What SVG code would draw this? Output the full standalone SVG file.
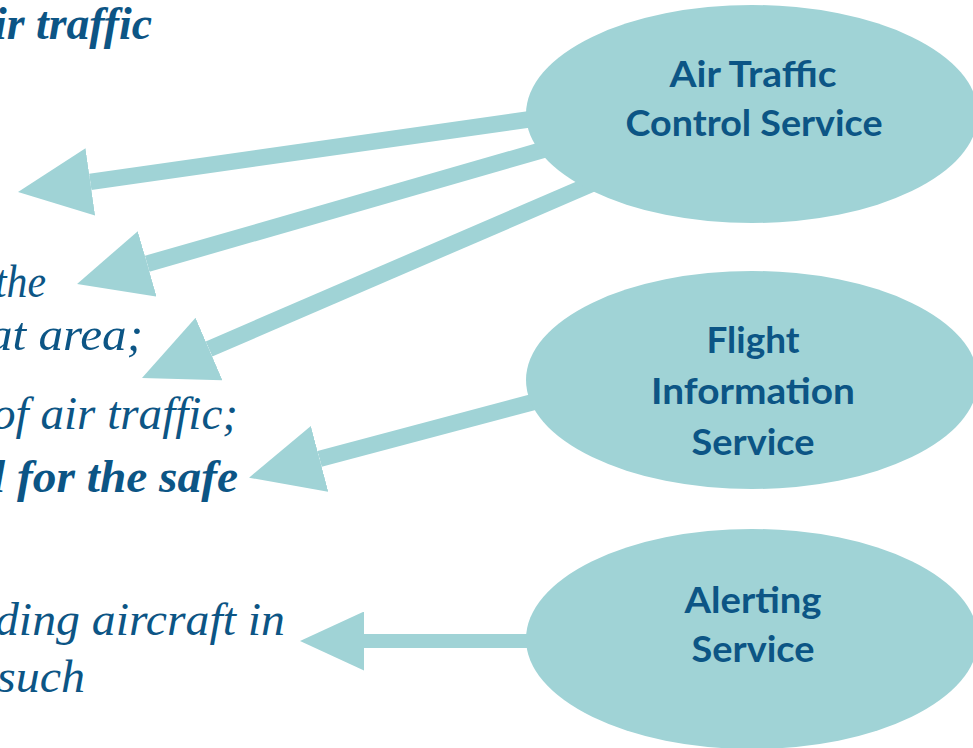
<svg xmlns="http://www.w3.org/2000/svg" width="973" height="748" viewBox="0 0 973 748">
  <style>
    .note { font-family: "Liberation Serif", "Times New Roman", serif; font-style: italic; font-size: 47px; fill: #0c5585; }
    .note.strong { font-weight: bold; }
    .svc { fill: #a0d3d6; }
    .svc-label { font-family: Lato, "Open Sans", "Liberation Sans", sans-serif; font-weight: bold; font-size: 37px; fill: #0c5585; text-anchor: middle; }
    .link { stroke: #a0d3d6; stroke-width: 16.5; fill: none; stroke-linecap: butt; }
    .link.thin { stroke-width: 14; }
  </style>
  <defs>
    <marker id="head" markerUnits="userSpaceOnUse" viewBox="0 0 73 68" markerWidth="73" markerHeight="68" refX="0" refY="34" orient="auto">
      <path d="M0,0 L73,34 L0,68 Z" fill="#a0d3d6"/>
    </marker>
    <marker id="head-small" markerUnits="userSpaceOnUse" viewBox="0 0 64 59" markerWidth="64" markerHeight="59" refX="0" refY="29.5" orient="auto">
      <path d="M0,0 L64,29.5 L0,59 Z" fill="#a0d3d6"/>
    </marker>
  </defs>

  <!-- bullet text running in from the left margin -->
  <g id="notes">
    <text class="note strong" x="-6" y="39" textLength="158" lengthAdjust="spacingAndGlyphs">ir traffic</text>
    <text class="note" x="-5" y="297" textLength="51" lengthAdjust="spacingAndGlyphs">the</text>
    <text class="note" x="-12" y="350" textLength="155" lengthAdjust="spacingAndGlyphs">at area;</text>
    <text class="note" x="-8" y="429" textLength="246" lengthAdjust="spacingAndGlyphs">of air traffic;</text>
    <text class="note strong" x="-8" y="492" textLength="246" lengthAdjust="spacingAndGlyphs">l for the safe</text>
    <text class="note" x="-5" y="635" textLength="290" lengthAdjust="spacingAndGlyphs">ding aircraft in</text>
    <text class="note" x="-3" y="692" textLength="88" lengthAdjust="spacingAndGlyphs">such</text>
  </g>

  <!-- thick arrows from each service to the objectives it serves -->
  <g id="connectors">
    <line class="link" x1="560" y1="115" x2="90.3" y2="181.8" marker-end="url(#head)"/>
    <line class="link" x1="560" y1="145" x2="147.2" y2="263.8" marker-end="url(#head)"/>
    <line class="link" x1="610" y1="176" x2="209" y2="349" marker-end="url(#head)"/>
    <line class="link" x1="560" y1="395" x2="319.6" y2="458.9" marker-end="url(#head)"/>
    <line class="link thin" x1="560" y1="641" x2="364" y2="641" marker-end="url(#head-small)"/>
  </g>

  <g id="atc">
    <ellipse class="svc" cx="752" cy="114" rx="226" ry="109"/>
    <text class="svc-label" x="753" y="87" textLength="167" lengthAdjust="spacingAndGlyphs">Air Traffic</text>
    <text class="svc-label" x="754" y="136" textLength="257" lengthAdjust="spacingAndGlyphs">Control Service</text>
  </g>

  <g id="fis">
    <ellipse class="svc" cx="752" cy="380" rx="226" ry="109"/>
    <text class="svc-label" x="753" y="353" textLength="93" lengthAdjust="spacingAndGlyphs">Flight</text>
    <text class="svc-label" x="753" y="404" textLength="204" lengthAdjust="spacingAndGlyphs">Information</text>
    <text class="svc-label" x="753" y="455" textLength="123" lengthAdjust="spacingAndGlyphs">Service</text>
  </g>

  <g id="alerting">
    <ellipse class="svc" cx="752" cy="639" rx="226" ry="110"/>
    <text class="svc-label" x="753" y="613" textLength="137" lengthAdjust="spacingAndGlyphs">Alerting</text>
    <text class="svc-label" x="753" y="662" textLength="123" lengthAdjust="spacingAndGlyphs">Service</text>
  </g>
</svg>
